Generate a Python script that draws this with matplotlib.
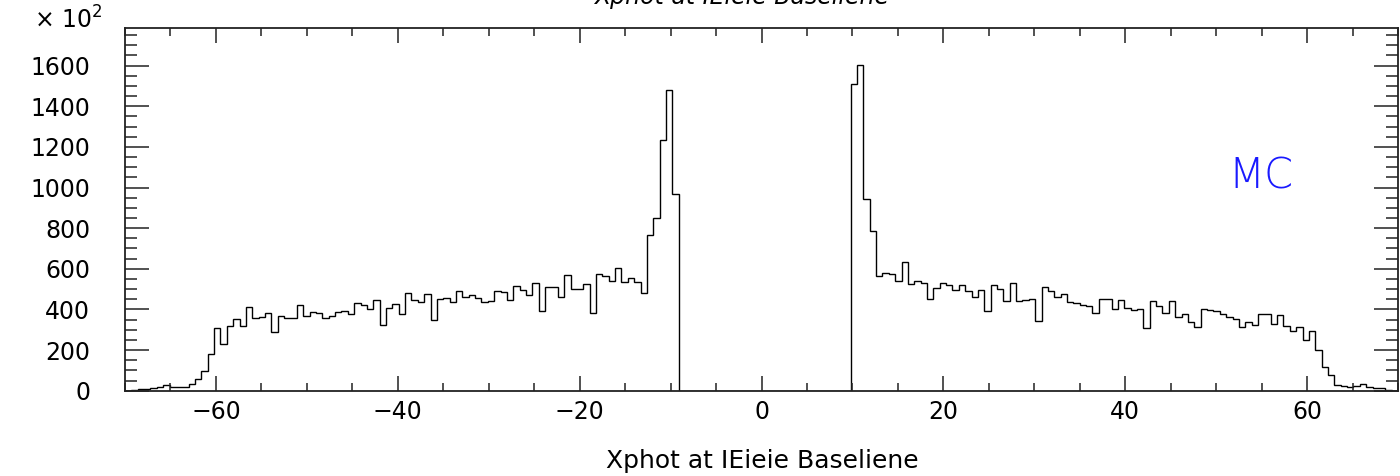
import numpy as np
import matplotlib
matplotlib.use("Agg")
import matplotlib.pyplot as plt
from matplotlib.ticker import MultipleLocator, FixedLocator

# ---- data (bin contents, units of 10^2), 200 bins from -70 to 70 ----
x_min, x_max, n_bins = -70.0, 70.0, 200
left_counts = [0, 2, 8, 7, 11, 20, 28, 20, 20, 20, 31, 56, 97, 181, 307, 232, 320, 355, 320, 412,
               360, 365, 383, 291, 370, 356, 356, 424, 370, 386, 383, 360, 368, 388, 391, 378, 432,
               420, 401, 448, 322, 407, 429, 379, 481, 448, 435, 476, 347, 452, 455, 435, 491, 462,
               471, 458, 437, 440, 491, 488, 447, 516, 496, 473, 531, 391, 508, 512, 463, 567, 499,
               499, 527, 384, 573, 565, 542, 606, 537, 554, 537, 481, 767, 849, 1234, 1482, 966]
gap_counts = [0] * 27
right_counts = [1511, 1605, 943, 787, 563, 577, 572, 540, 631, 524, 542, 531, 452, 503, 531, 519,
                494, 519, 489, 463, 494, 391, 519, 499, 443, 532, 440, 447, 453, 342, 511, 489, 460,
                476, 437, 432, 422, 416, 383, 452, 450, 402, 445, 409, 399, 402, 309, 440, 416, 384,
                439, 363, 376, 340, 312, 401, 398, 394, 379, 363, 352, 315, 340, 324, 378, 378, 330,
                375, 320, 294, 315, 250, 296, 202, 115, 79, 30, 21, 20, 23, 33, 18, 15, 13, 2, 0]
counts = np.array(left_counts + gap_counts + right_counts, dtype=float)
assert len(counts) == n_bins
edges = np.linspace(x_min, x_max, n_bins + 1)

x_ticks = [-60, -40, -20, 0, 20, 40, 60]
y_ticks = [0, 200, 400, 600, 800, 1000, 1200, 1400, 1600]
y_max = 1785

title_text = "Xphot at IEieie Baseliene"
xlabel_text = "Xphot at IEieie Baseliene"
scale_text = r"$\times$ 10$^{2}$"
tag_text = "MC"

# ---- figure ----
W, H = 1400, 476
fig = plt.figure(figsize=(W / 100, H / 100), dpi=100)
plt.rcParams['font.family'] = ['DejaVu Sans']
ax = fig.add_axes([125 / W, 1 - 390.7 / H, (1398 - 125) / W, (390.7 - 28) / H])

ax.stairs(counts, edges, baseline=0, color='black', linewidth=1.0)

ax.set_xlim(x_min, x_max)
ax.set_ylim(0, y_max)

ax.xaxis.set_major_locator(FixedLocator(x_ticks))
ax.xaxis.set_minor_locator(MultipleLocator(5))
ax.yaxis.set_major_locator(FixedLocator(y_ticks))
ax.yaxis.set_minor_locator(MultipleLocator(50))

ax.tick_params(axis='x', which='both', direction='in', top=True, bottom=True,
               labelsize=17, pad=7, width=1.1, color='#222222')
ax.tick_params(axis='x', which='major', length=11)
ax.tick_params(axis='x', which='minor', length=5.5)
ax.tick_params(axis='y', which='both', direction='in', left=True, right=True,
               labelsize=17, pad=25, width=1.1, color='#222222')
ax.tick_params(axis='y', which='major', length=17)
ax.tick_params(axis='y', which='minor', length=8.5)

for sp in ax.spines.values():
    sp.set_linewidth(1.3)
    sp.set_color('#222222')

ax.set_xticklabels([f"{v}".replace('-', '\u2212') for v in x_ticks])
ax.set_yticklabels([str(v) for v in y_ticks])

# axis label, title (clipped at the top as in the original), scale and MC tag
fig.text(762 / W, 1 - 461 / H, xlabel_text, ha='center', va='center', fontsize=18)
fig.text(742 / W, 1 - 4 / H, title_text, ha='center', va='baseline', fontsize=17,
         style='italic')
fig.text(68 / W, 1 - 20 / H, scale_text, ha='center', va='center', fontsize=17)
fig.text(1261 / W, 1 - 176 / H, tag_text, ha='center', va='center',
         fontsize=30, color='#1a1aff', fontweight='light')

fig.savefig("out.png", dpi=100)
